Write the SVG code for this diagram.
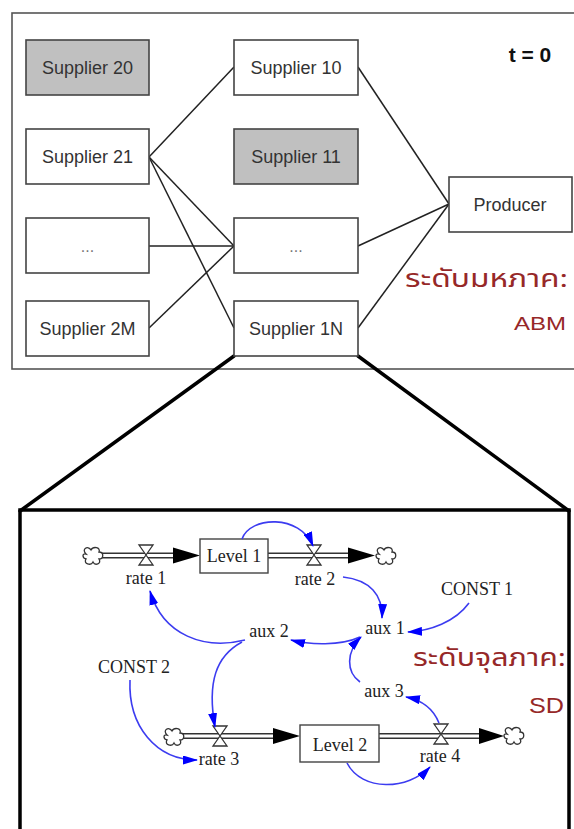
<svg xmlns="http://www.w3.org/2000/svg" width="574" height="829" viewBox="0 0 574 829">
  <style>
    .frame { fill: none; stroke: #555; stroke-width: 1.6; }
    .box { fill: #fff; stroke: #444; stroke-width: 1.6; }
    .box.grey { fill: #c0c0c0; }
    .lbl { font-family: "Liberation Sans", Arial, sans-serif; font-size: 18px; fill: #333; text-anchor: middle; }
    .dots { font-family: "Liberation Sans", Arial, sans-serif; font-size: 16px; fill: #777; text-anchor: middle; }
    .link { stroke: #222; stroke-width: 1.5; fill: none; }
    .zoom { stroke: #000; stroke-width: 3.5; fill: none; stroke-linecap: round; }
    .thai { font-family: "Noto Sans Thai", "Noto Sans", "DejaVu Sans", sans-serif; fill: #962828; }
    .tag { font-family: "Liberation Sans", Arial, sans-serif; fill: #962828; }
    .sd { font-family: "Liberation Serif", "Times New Roman", serif; font-size: 18px; fill: #222; text-anchor: middle; }
    .stock { fill: #fff; stroke: #444; stroke-width: 1.4; }
    .pipeOuter { stroke: #333; stroke-width: 6; fill: none; }
    .pipeInner { stroke: #fff; stroke-width: 3; fill: none; }
    .flowHead { fill: #000; }
    .infl { stroke: #3c3cf0; stroke-width: 1.6; fill: none; marker-end: url(#blueHead); }
  </style>
  <defs>
    <marker id="blueHead" viewBox="0 0 15 9" refX="14" refY="4.5" markerWidth="15" markerHeight="9" markerUnits="userSpaceOnUse" orient="auto">
      <path d="M0,0 L15,4.5 L0,9 Z" fill="#0000ff"/>
    </marker>
    <path id="cloud" d="M-7,-2 C-12,-7 -5,-11 -2,-6 C0,-10 8,-9 6,-4 C11,-4 11,3 6,3 C9,8 2,10 0,6 C-2,10 -10,8 -7,3 C-11,2 -11,-3 -7,-2 Z" fill="#fff" stroke="#333" stroke-width="1.3"/>
    <path id="valve" d="M-7,-10 L7,-10 L-7,10 L7,10 Z" fill="#fff" stroke="#333" stroke-width="1.3"/>
  </defs>

  <rect width="574" height="829" fill="#fff"/>

  <!-- agent-based upper level -->
  <rect class="frame" x="12" y="13" width="600" height="356"/>

  <g id="connectors">
    <line class="link" x1="149" y1="157" x2="234" y2="67"/>
    <line class="link" x1="149" y1="157" x2="234" y2="246"/>
    <line class="link" x1="149" y1="157" x2="234" y2="328"/>
    <line class="link" x1="149" y1="246" x2="234" y2="246"/>
    <line class="link" x1="149" y1="328" x2="234" y2="246"/>
    <line class="link" x1="358" y1="67" x2="449" y2="204"/>
    <line class="link" x1="358" y1="246" x2="449" y2="204"/>
    <line class="link" x1="358" y1="328" x2="449" y2="204"/>
    <line class="zoom" x1="234" y1="356" x2="20" y2="511"/>
    <line class="zoom" x1="358" y1="356" x2="569" y2="511"/>
  </g>

  <g id="supplier20"><rect class="box grey" x="26" y="40" width="123" height="55"/><text class="lbl" x="87.5" y="74">Supplier 20</text></g>
  <g id="supplier21"><rect class="box" x="26" y="129" width="123" height="55"/><text class="lbl" x="87.5" y="163">Supplier 21</text></g>
  <g id="supplier2x"><rect class="box" x="26" y="218" width="123" height="55"/><text class="dots" x="87.5" y="252">...</text></g>
  <g id="supplier2M"><rect class="box" x="26" y="301" width="123" height="55"/><text class="lbl" x="87.5" y="335">Supplier 2M</text></g>
  <g id="supplier10"><rect class="box" x="234" y="40" width="124" height="55"/><text class="lbl" x="296" y="74">Supplier 10</text></g>
  <g id="supplier11"><rect class="box grey" x="234" y="129" width="124" height="55"/><text class="lbl" x="296" y="163">Supplier 11</text></g>
  <g id="supplier1x"><rect class="box" x="234" y="218" width="124" height="55"/><text class="dots" x="296" y="252">...</text></g>
  <g id="supplier1N"><rect class="box" x="234" y="301" width="124" height="55"/><text class="lbl" x="296" y="335">Supplier 1N</text></g>
  <g id="producer"><rect class="box" x="449" y="177" width="123" height="55"/><text class="lbl" x="510" y="211">Producer</text></g>

  <text x="530" y="62" font-family="Liberation Sans, Arial, sans-serif" font-size="21" font-weight="bold" fill="#111" text-anchor="middle">t = 0</text>
  <text class="thai" x="405" y="287" font-size="24" textLength="163" lengthAdjust="spacingAndGlyphs">ระดับมหภาค:</text>
  <text class="tag" x="514" y="330" font-size="19" textLength="52" lengthAdjust="spacingAndGlyphs">ABM</text>

  <!-- system-dynamics lower level -->
  <path d="M20,829 V510 H569 V829" fill="none" stroke="#000" stroke-width="3.5"/>

  <g id="flows">
    <!-- Level 1 inflow / outflow -->
    <path class="pipeOuter" d="M101,555.5 H175 M268,555.5 H350"/>
    <path class="pipeInner" d="M100,555.5 H176 M267,555.5 H351"/>
    <path class="flowHead" d="M173,547.5 L200,555.5 L173,563.5 Z"/>
    <path class="flowHead" d="M348,547.5 L375,555.5 L348,563.5 Z"/>
    <!-- Level 2 inflow / outflow -->
    <path class="pipeOuter" d="M182,736 H275 M379,736 H481"/>
    <path class="pipeInner" d="M181,736 H276 M378,736 H482"/>
    <path class="flowHead" d="M273,728 L300,736 L273,744 Z"/>
    <path class="flowHead" d="M479,728 L504,736 L479,744 Z"/>
  </g>

  <g id="cloud1"><use href="#cloud" x="93" y="556"/></g>
  <g id="cloud2"><use href="#cloud" x="386" y="556"/></g>
  <g id="cloud3"><use href="#cloud" x="174" y="737"/></g>
  <g id="cloud4"><use href="#cloud" x="514" y="736"/></g>

  <g id="level1"><rect class="stock" x="200" y="539" width="68" height="34"/><text class="sd" x="234" y="562">Level 1</text></g>
  <g id="level2"><rect class="stock" x="300" y="725" width="79" height="37"/><text class="sd" x="340" y="751">Level 2</text></g>

  <g id="rate1"><use href="#valve" x="146" y="555"/><text class="sd" x="146" y="584">rate 1</text></g>
  <g id="rate2"><use href="#valve" x="314" y="555"/><text class="sd" x="315" y="585">rate 2</text></g>
  <g id="rate3"><use href="#valve" x="220" y="736"/><text class="sd" x="219" y="765">rate 3</text></g>
  <g id="rate4"><use href="#valve" x="441" y="734"/><text class="sd" x="440" y="762">rate 4</text></g>

  <g id="aux1"><text class="sd" x="385" y="634">aux 1</text></g>
  <g id="aux2"><text class="sd" x="269" y="637">aux 2</text></g>
  <g id="aux3"><text class="sd" x="384" y="697">aux 3</text></g>
  <g id="const1"><text class="sd" x="477" y="595">CONST 1</text></g>
  <g id="const2"><text class="sd" x="134" y="673">CONST 2</text></g>

  <g id="influences">
    <path class="infl" d="M242,539 C250,516 300,514 313,546"/>
    <path class="infl" d="M343,577 C370,580 383,595 382,618"/>
    <path class="infl" d="M469,603 C455,622 430,631 408,632"/>
    <path class="infl" d="M360,637 C340,646 310,645 291,640"/>
    <path class="infl" d="M360,682 C346,672 346,652 361,637"/>
    <path class="infl" d="M439,723 C433,708 421,700 406,697"/>
    <path class="infl" d="M245,640 C205,650 163,636 150,591"/>
    <path class="infl" d="M242,642 C216,656 207,682 215,727"/>
    <path class="infl" d="M130,680 C128,726 156,760 197,760"/>
    <path class="infl" d="M347,763 C362,792 408,790 430,767"/>
  </g>

  <text class="thai" x="413" y="666" font-size="24" textLength="153" lengthAdjust="spacingAndGlyphs">ระดับจุลภาค:</text>
  <text class="tag" x="529" y="713" font-size="22" textLength="35" lengthAdjust="spacingAndGlyphs">SD</text>
</svg>
